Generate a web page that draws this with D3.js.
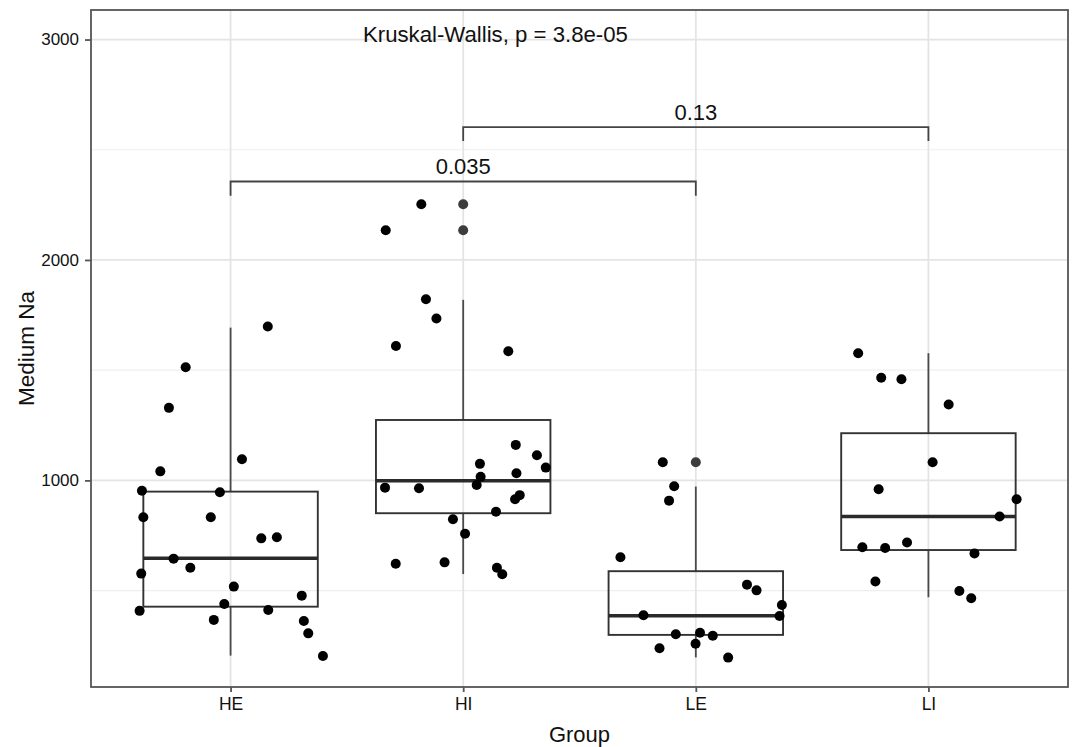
<!DOCTYPE html>
<html>
<head>
<meta charset="utf-8">
<script src="https://cdn.jsdelivr.net/npm/d3@7"></script>
<style>
  html, body { margin: 0; padding: 0; background: #fff; }
  svg { display: block; font-family: "Liberation Sans", Arial, sans-serif; }
</style>
</head>
<body>
<svg id="chart" width="1072" height="747"></svg>
<script>
// ---------------- data ----------------
const categories = ["HE", "HI", "LE", "LI"];

// jittered observations: value and horizontal jitter (fraction of category step)
const heValues = [1698, 1513, 1329, 1096, 1041, 953, 946, 833, 833, 737, 742, 645, 604, 577, 518, 477, 439, 408, 412, 367, 362, 306, 203];
const heJitter = [0.160, -0.193, -0.265, 0.049, -0.302, -0.381, -0.046, -0.375, -0.085, 0.132, 0.199, -0.245, -0.173, -0.384, 0.014, 0.306, -0.027, -0.391, 0.162, -0.072, 0.315, 0.334, 0.397];

const hiValues = [2253, 2135, 1822, 1734, 1610, 1586, 1161, 1114, 1058, 1075, 1032, 1016, 979, 967, 964, 933, 914, 858, 824, 758, 622, 628, 604, 574];
const hiJitter = [-0.180, -0.333, -0.160, -0.115, -0.289, 0.194, 0.226, 0.317, 0.355, 0.072, 0.229, 0.075, 0.058, -0.336, -0.190, 0.243, 0.223, 0.141, -0.044, 0.008, -0.290, -0.080, 0.145, 0.168];

const leValues = [1082, 973, 908, 651, 527, 501, 435, 385, 388, 302, 309, 295, 259, 238, 196];
const leJitter = [-0.142, -0.093, -0.115, -0.324, 0.220, 0.261, 0.370, 0.360, -0.225, -0.086, 0.018, 0.073, -0.001, -0.156, 0.139];

const liValues = [1577, 1466, 1459, 1344, 1082, 960, 914, 836, 697, 693, 718, 668, 541, 498, 465];
const liJitter = [-0.302, -0.203, -0.116, 0.087, 0.018, -0.214, 0.379, 0.306, -0.284, -0.186, -0.092, 0.198, -0.228, 0.133, 0.184];

// box-plot statistics per category (HE, HI, LE, LI)
const whiskerLow  = [205, 575, 197, 470];
const boxQ1       = [427, 851, 299, 684];
const boxMedian   = [647, 998, 386, 836];
const boxQ3       = [949, 1274, 588, 1214];
const whiskerHigh = [1693, 1819, 972, 1577];

// boxplot outliers
const outlierGroups = ["HI", "HI", "LE"];
const outlierValues = [2253, 2135, 1082];

// pairwise comparison brackets
const bracketFrom   = ["HE", "HI"];
const bracketTo     = ["LE", "LI"];
const bracketLevel  = [2356, 2603];
const bracketTip    = [2291, 2540];
const bracketLabels = ["0.035", "0.13"];

const globalLabel = "Kruskal-Wallis, p = 3.8e-05";
const yTicks = [1000, 2000, 3000];
const yMinorTicks = [500, 1500, 2500];
const yDomain = [62.6, 3134];
const xTitle = "Group";
const yTitle = "Medium Na";

// ---------------- layout ----------------
const panel = { left: 91, right: 1068, top: 10, bottom: 687 };
const svg = d3.select("#chart");

const x = d3.scalePoint().domain(categories).range([panel.left, panel.right]).padding(0.6);
const step = x.step();
const y = d3.scaleLinear().domain(yDomain).range([panel.bottom, panel.top]);
const boxWidth = step * 0.75;

// background + grid
svg.append("rect").attr("x", panel.left).attr("y", panel.top)
  .attr("width", panel.right - panel.left).attr("height", panel.bottom - panel.top)
  .attr("fill", "#fff");

const grid = svg.append("g");
grid.selectAll(".minor").data(yMinorTicks).join("line")
  .attr("x1", panel.left).attr("x2", panel.right)
  .attr("y1", d => y(d)).attr("y2", d => y(d))
  .attr("stroke", "#efefef").attr("stroke-width", 1.2);
grid.selectAll(".majory").data(yTicks).join("line")
  .attr("x1", panel.left).attr("x2", panel.right)
  .attr("y1", d => y(d)).attr("y2", d => y(d))
  .attr("stroke", "#e4e4e4").attr("stroke-width", 1.8);
grid.selectAll(".majorx").data(categories).join("line")
  .attr("x1", d => x(d)).attr("x2", d => x(d))
  .attr("y1", panel.top).attr("y2", panel.bottom)
  .attr("stroke", "#e4e4e4").attr("stroke-width", 1.8);

// boxplots
const boxes = svg.append("g");
categories.forEach((c, i) => {
  const cx = x(c);
  const g = boxes.append("g");
  g.append("line").attr("x1", cx).attr("x2", cx)
    .attr("y1", y(boxQ3[i])).attr("y2", y(whiskerHigh[i]))
    .attr("stroke", "#4a4a4a").attr("stroke-width", 1.8);
  g.append("line").attr("x1", cx).attr("x2", cx)
    .attr("y1", y(boxQ1[i])).attr("y2", y(whiskerLow[i]))
    .attr("stroke", "#4a4a4a").attr("stroke-width", 1.8);
  g.append("rect")
    .attr("x", cx - boxWidth / 2).attr("width", boxWidth)
    .attr("y", y(boxQ3[i])).attr("height", y(boxQ1[i]) - y(boxQ3[i]))
    .attr("fill", "none").attr("stroke", "#333").attr("stroke-width", 1.9);
  g.append("line")
    .attr("x1", cx - boxWidth / 2).attr("x2", cx + boxWidth / 2)
    .attr("y1", y(boxMedian[i])).attr("y2", y(boxMedian[i]))
    .attr("stroke", "#2a2a2a").attr("stroke-width", 3.6);
});

// outliers
svg.append("g").selectAll("circle")
  .data(outlierValues.map((v, i) => ({ g: outlierGroups[i], v })))
  .join("circle")
  .attr("cx", d => x(d.g)).attr("cy", d => y(d.v))
  .attr("r", 5).attr("fill", "#3c3c3c");

// jittered points
const groupsData = [
  ["HE", heValues, heJitter],
  ["HI", hiValues, hiJitter],
  ["LE", leValues, leJitter],
  ["LI", liValues, liJitter]
];
const pts = [];
groupsData.forEach(([g, vals, jit]) => vals.forEach((v, i) => pts.push({ g, v, j: jit[i] })));
svg.append("g").selectAll("circle").data(pts).join("circle")
  .attr("cx", d => x(d.g) + d.j * step)
  .attr("cy", d => y(d.v))
  .attr("r", 5).attr("fill", "#000");

// brackets
const br = svg.append("g");
bracketLabels.forEach((lab, i) => {
  const x1 = x(bracketFrom[i]), x2 = x(bracketTo[i]);
  const path = d3.path();
  path.moveTo(x1, y(bracketTip[i]));
  path.lineTo(x1, y(bracketLevel[i]));
  path.lineTo(x2, y(bracketLevel[i]));
  path.lineTo(x2, y(bracketTip[i]));
  br.append("path").attr("d", path.toString())
    .attr("fill", "none").attr("stroke", "#444").attr("stroke-width", 1.8);
  br.append("text")
    .attr("x", (x1 + x2) / 2).attr("y", y(bracketLevel[i]) - 7)
    .attr("text-anchor", "middle").attr("font-size", 22).attr("fill", "#111")
    .text(lab);
});

// global test label
svg.append("text")
  .attr("x", 363).attr("y", 42)
  .attr("font-size", 22.2).attr("fill", "#111")
  .text(globalLabel);

// panel border
svg.append("rect").attr("x", panel.left).attr("y", panel.top)
  .attr("width", panel.right - panel.left).attr("height", panel.bottom - panel.top)
  .attr("fill", "none").attr("stroke", "#555").attr("stroke-width", 1.8);

// axes
const yAxis = svg.append("g").attr("transform", `translate(${panel.left},0)`)
  .call(d3.axisLeft(y).tickValues(yTicks).tickSize(6).tickPadding(6).tickFormat(d3.format("d")));
const xAxis = svg.append("g").attr("transform", `translate(0,${panel.bottom})`)
  .call(d3.axisBottom(x).tickSize(5).tickPadding(6));
[yAxis, xAxis].forEach(a => {
  a.select(".domain").remove();
  a.selectAll(".tick line").attr("stroke", "#555").attr("stroke-width", 1.8);
  a.selectAll(".tick text").attr("fill", "#111").attr("font-family", "Liberation Sans, Arial, sans-serif");
});
yAxis.selectAll(".tick text").attr("font-size", 17);
xAxis.selectAll(".tick text").attr("font-size", 17.5).attr("dy", "0.71em");

// titles
svg.append("text")
  .attr("x", (panel.left + panel.right) / 2).attr("y", 742)
  .attr("text-anchor", "middle").attr("font-size", 22).attr("fill", "#111")
  .text(xTitle);
svg.append("text")
  .attr("transform", `translate(34,${(panel.top + panel.bottom) / 2}) rotate(-90)`)
  .attr("text-anchor", "middle").attr("font-size", 22.5).attr("fill", "#111")
  .text(yTitle);
</script>
</body>
</html>
